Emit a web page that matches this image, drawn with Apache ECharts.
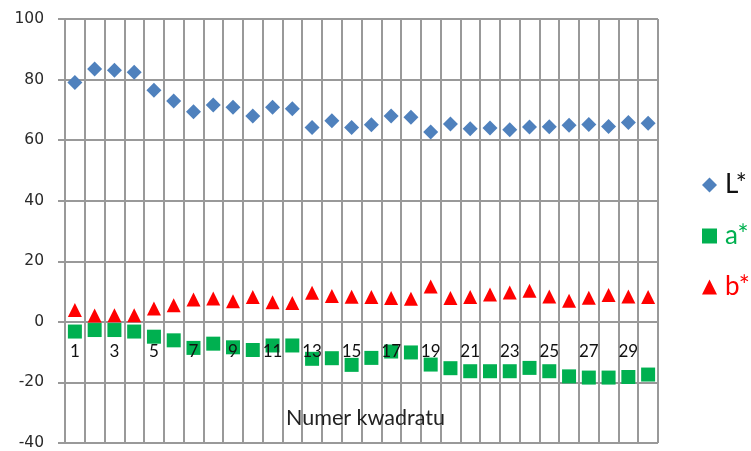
<!DOCTYPE html>
<html>
<head>
<meta charset="utf-8">
<script src="https://cdn.jsdelivr.net/npm/echarts@6/dist/echarts.min.js"></script>
<style>
  html, body { margin: 0; padding: 0; background: #fff; }
  #chart { width: 751px; height: 451px; }
</style>
</head>
<body>
<div id="chart"></div>
<script>
// Square numbers 1..30
const categories = ['1','2','3','4','5','6','7','8','9','10','11','12','13','14','15',
  '16','17','18','19','20','21','22','23','24','25','26','27','28','29','30'];

// CIELAB components measured per square
const valuesL = [79.0, 83.5, 83.1, 82.4, 76.5, 72.9, 69.4, 71.6, 70.9, 68.0, 70.9, 70.4, 64.2, 66.4, 64.2,
  65.1, 68.0, 67.6, 62.7, 65.3, 63.8, 64.0, 63.4, 64.3, 64.4, 64.9, 65.2, 64.5, 65.8, 65.6];
const valuesA = [-3.2, -2.7, -2.7, -3.2, -4.9, -6.1, -8.6, -7.2, -8.4, -9.3, -7.8, -7.8, -12.2, -12.0, -14.2,
  -11.9, -9.8, -10.1, -14.1, -15.3, -16.3, -16.3, -16.3, -15.2, -16.3, -18.0, -18.4, -18.4, -18.2, -17.4];
const valuesB = [3.9, 2.1, 2.2, 2.2, 4.4, 5.5, 7.4, 7.7, 6.8, 8.2, 6.5, 6.2, 9.6, 8.5, 8.3,
  8.2, 7.9, 7.6, 11.7, 7.9, 8.2, 9.0, 9.7, 10.3, 8.4, 7.0, 8.0, 8.9, 8.4, 8.2];

const yTicks = { min: -40, max: 100, step: 20 };
const xTitle = 'Numer kwadratu';

const gridColor = '#999999';
const chart = echarts.init(document.getElementById('chart'), null, { renderer: 'canvas' });

chart.setOption({
  animation: false,
  backgroundColor: '#ffffff',
  grid: { left: 65, right: 93, top: 19, bottom: 7, containLabel: false },
  title: {
    text: xTitle,
    left: 281, top: 402,
    textStyle: { fontFamily: 'Lato', fontSize: 21.5, fontWeight: 'normal', color: '#222' }
  },
  legend: {
    orient: 'vertical',
    left: 697, top: 167,
    itemWidth: 15, itemHeight: 15,
    itemGap: 25,
    textStyle: { fontFamily: 'Lato', fontSize: 26, lineHeight: 26, padding: [0, 0, 0, 3] },
    data: [
      { name: 'L*', icon: 'diamond', textStyle: { color: '#111' } },
      { name: 'a*', icon: 'rect', textStyle: { color: '#00b050' } },
      { name: 'b*', icon: 'triangle', textStyle: { color: '#ff0000' } }
    ]
  },
  xAxis: [
    {
      // grid columns: one cell per square
      type: 'category',
      data: categories,
      boundaryGap: true,
      axisLine: { show: false },
      axisTick: { show: false },
      axisLabel: { show: false },
      splitLine: { show: true, interval: 0, lineStyle: { color: gridColor, width: 2 } }
    },
    {
      // square numbers drawn over the markers, along the zero line
      type: 'category',
      data: categories,
      position: 'bottom',
      boundaryGap: true,
      z: 10,
      axisLine: { show: false },
      axisTick: { show: false },
      splitLine: { show: false },
      axisLabel: {
        interval: 1,
        margin: -91,
        verticalAlign: 'middle',
        fontFamily: 'Lato',
        fontSize: 17,
        color: '#111'
      }
    }
  ],
  yAxis: {
    type: 'value',
    min: yTicks.min, max: yTicks.max, interval: yTicks.step,
    axisLine: { show: true, lineStyle: { color: gridColor, width: 2 } },
    axisTick: { show: true, length: 7, lineStyle: { color: gridColor, width: 2 } },
    splitLine: { show: true, lineStyle: { color: gridColor, width: 2 } },
    axisLabel: { margin: 21, fontFamily: 'DejaVu Sans', fontSize: 15.5, color: '#2a2a2a' }
  },
  series: [
    {
      name: 'L*', type: 'scatter', xAxisIndex: 0,
      data: valuesL, symbol: 'diamond', symbolSize: 15,
      itemStyle: { color: '#4f81bd', opacity: 1 }
    },
    {
      name: 'a*', type: 'scatter', xAxisIndex: 0,
      data: valuesA, symbol: 'rect', symbolSize: 14,
      itemStyle: { color: '#00b050', opacity: 1 }
    },
    {
      name: 'b*', type: 'scatter', xAxisIndex: 0,
      data: valuesB, symbol: 'triangle', symbolSize: 14,
      itemStyle: { color: '#ff0000', opacity: 1 }
    }
  ]
});
</script>
</body>
</html>
